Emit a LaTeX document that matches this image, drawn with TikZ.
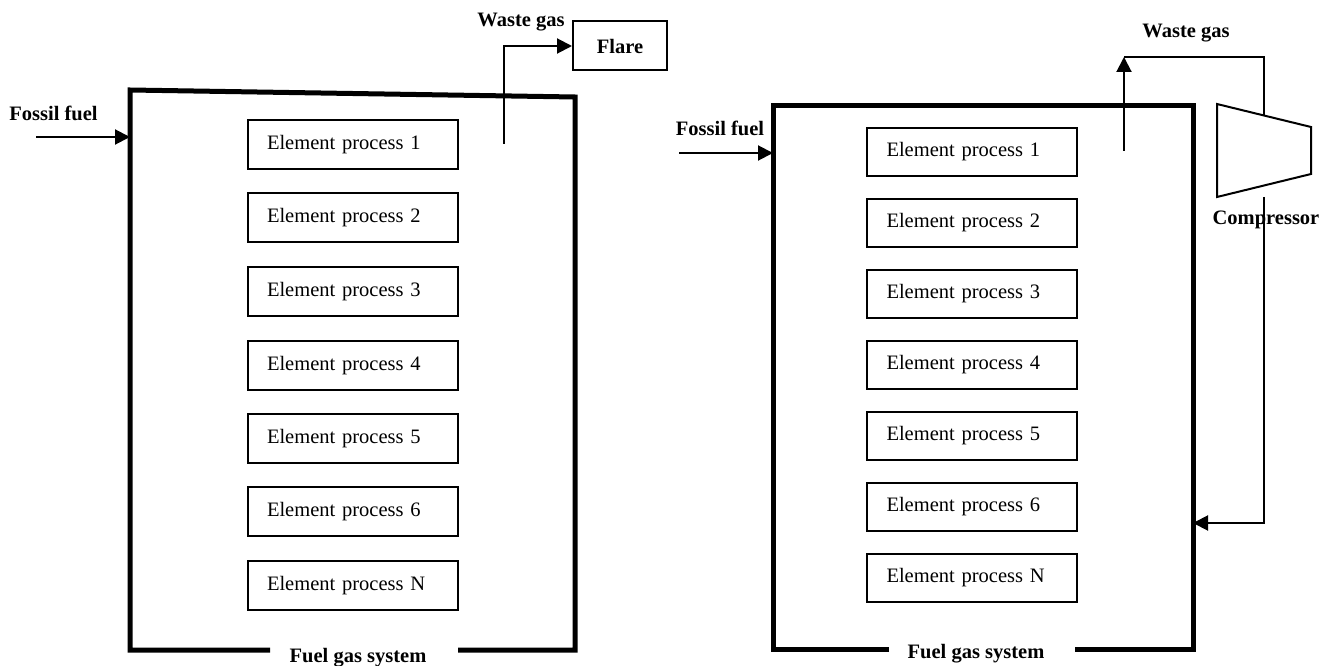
\documentclass[tikz,border=0pt]{standalone}
\usepackage{fontspec}
\setmainfont{Liberation Serif}
\usetikzlibrary{arrows.meta}
\begin{document}
\begin{tikzpicture}[x=1pt,y=-1pt,
  every node/.style={font=\fontsize{20.5}{24}\selectfont},
  elem/.style={draw,line width=2pt,minimum height=49pt,text width=171pt,inner xsep=19.5pt,align=left},
  lbl/.style={font=\fontsize{20.5}{24}\selectfont\bfseries,inner sep=0pt},
  sysbox/.style={line width=5pt,line join=miter},
  thin/.style={line width=2pt},
  arr/.style={thin,-{Triangle[length=15pt,width=15pt]}}]
\useasboundingbox (0,0) rectangle (1334,666);
% ---------- left diagram ----------
\foreach \i/\t/\y in {1/1/144.5,2/2/217.5,3/3/291.5,4/4/365.5,5/5/438.5,6/6/511.5,7/N/585.5}
  \node[elem] (L\i) at (352.5,\y) {Element process \t};
\coordinate (Lg1) at (270,650);
\coordinate (Lbl) at (130,650);
\coordinate (Ltl) at (130,90);
\coordinate (Ltr) at (575,97);
\coordinate (Lbr) at (575,650);
\coordinate (Lg2) at (458,650);
\draw[sysbox] (Lg1) -- (Lbl) -- (Ltl) -- (Ltr) -- (Lbr) -- (Lg2);
\node[lbl,anchor=base] (Lsys) at (358,662) {Fuel gas system};
\node[lbl] (Lff) at (53.5,113) {Fossil fuel};
\coordinate (Lfs) at (36,137);
\draw[arr] (Lfs) -- (Lfs -| Lbl);
\node[draw,thin,lbl,minimum width=94pt,minimum height=49pt] (flare) at (620,46) {Flare};
\node[lbl] (Lwg) at (521,22) {Waste gas};
\coordinate (Lws) at (504,144);
\draw[arr] (Lws) |- (flare.west);
% ---------- right diagram ----------
\foreach \i/\t/\y in {1/1/152,2/2/223,3/3/294,4/4/365,5/5/436,6/6/507,7/N/578}
  \node[elem,minimum height=48pt] (R\i) at (972,\y) {Element process \t};
\coordinate (Rg1) at (889,649);
\coordinate (Rbl) at (773,649);
\coordinate (Rtl) at (773,106);
\coordinate (Rtr) at (1193,106);
\coordinate (Rbr) at (1193,649);
\coordinate (Rg2) at (1075,649);
\draw[sysbox] (Rg1) -- (Rbl) -- (Rtl) -- (Rtr) -- (Rbr) -- (Rg2);
\node[lbl,anchor=base] (Rsys) at (976,658) {Fuel gas system};
\node[lbl] (Rff) at (720,128) {Fossil fuel};
\coordinate (Rfs) at (679,153);
\draw[arr] (Rfs) -- (Rfs -| Rbl);
% compressor
\coordinate (C1) at (1217,104);
\coordinate (C2) at (1311,127);
\coordinate (C3) at (1311,174);
\coordinate (C4) at (1217,197);
\draw[thin,line join=miter] (C1) -- (C2) -- (C3) -- (C4) -- cycle;
\node[lbl] (comp) at (1266,220) {Compressor};
\node[lbl] (Rwg) at (1186,33) {Waste gas};
\coordinate (Rws) at (1124,151);
\coordinate (Rwt) at (1124,57);
\coordinate (Ctop) at (1264,115.5);
\coordinate (Cbot) at (1264,197);
\coordinate (Rfb) at (1193,523);
\draw[arr] (Rws) -- (Rwt);
\draw[thin] (Rwt) -| (Ctop);
\draw[arr] (Cbot) |- (Rfb);
\end{tikzpicture}
\end{document}
